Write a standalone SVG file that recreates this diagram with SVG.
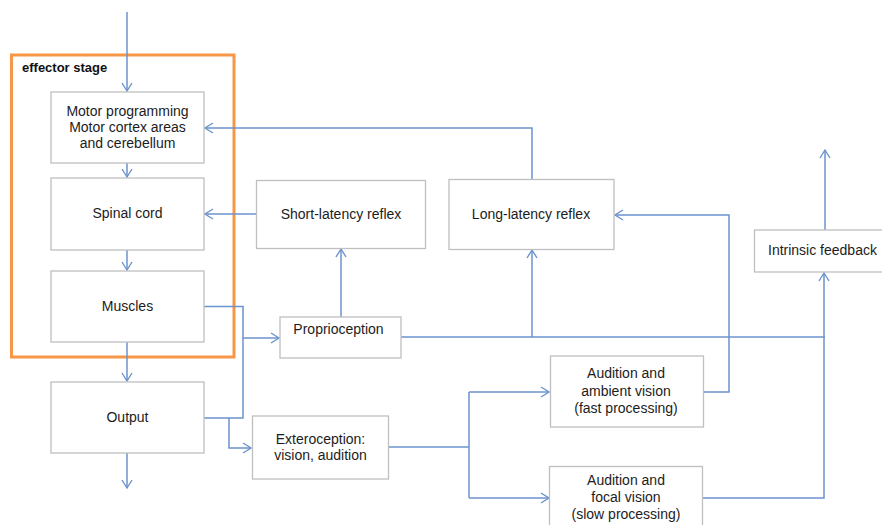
<svg xmlns="http://www.w3.org/2000/svg" width="882" height="525" viewBox="0 0 882 525">
  <style>
    .box { fill: #ffffff; stroke: #bfbfbf; stroke-width: 1.3; }
    .lbl { font-family: "Liberation Sans", Arial, sans-serif; font-size: 14px; fill: #1c1c1c; text-anchor: middle; }
    .conn { fill: none; stroke: #6b93cc; stroke-width: 1.5; }
    .stage { fill: none; stroke: #f79646; stroke-width: 3; }
    .stage-lbl { font-family: "Liberation Sans", Arial, sans-serif; font-size: 13px; font-weight: bold; fill: #111111; }
  </style>
  <defs>
    <marker id="arrow" markerUnits="userSpaceOnUse" markerWidth="14" markerHeight="14" viewBox="-10 -7 12 14" refX="0" refY="0" orient="auto">
      <path d="M-8,-5 L0,0 L-8,5" fill="none" stroke="#6b93cc" stroke-width="1.4"/>
    </marker>
  </defs>

  <rect width="882" height="525" fill="#ffffff"/>

  <!-- effector stage frame -->
  <g id="effector-stage">
    <rect class="stage" x="11.5" y="55" width="222.5" height="302"/>
    <text class="stage-lbl" x="22" y="72">effector stage</text>
  </g>

  <!-- connectors -->
  <g id="connectors">
    <path class="conn" d="M127,12 V91" marker-end="url(#arrow)"/>
    <path class="conn" d="M127,163 V177" marker-end="url(#arrow)"/>
    <path class="conn" d="M127,250 V270" marker-end="url(#arrow)"/>
    <path class="conn" d="M127,342 V381" marker-end="url(#arrow)"/>
    <path class="conn" d="M127,453 V488" marker-end="url(#arrow)"/>
    <path class="conn" d="M204,306.5 H243 V418 H204"/>
    <path class="conn" d="M243,338 H279" marker-end="url(#arrow)"/>
    <path class="conn" d="M229,418 V448 H251" marker-end="url(#arrow)"/>
    <path class="conn" d="M341,317 V249" marker-end="url(#arrow)"/>
    <path class="conn" d="M256,214 H205" marker-end="url(#arrow)"/>
    <path class="conn" d="M401,337 H825"/>
    <path class="conn" d="M532,337 V250" marker-end="url(#arrow)"/>
    <path class="conn" d="M532,179 V128 H205" marker-end="url(#arrow)"/>
    <path class="conn" d="M389,447 H469"/>
    <path class="conn" d="M469,392 V498"/>
    <path class="conn" d="M469,392 H549" marker-end="url(#arrow)"/>
    <path class="conn" d="M469,498 H549" marker-end="url(#arrow)"/>
    <path class="conn" d="M703,392 H729 V215 H615" marker-end="url(#arrow)"/>
    <path class="conn" d="M703,498 H824 V273" marker-end="url(#arrow)"/>
    <path class="conn" d="M825,230 V150" marker-end="url(#arrow)"/>
  </g>

  <g id="motor-programming">
    <rect class="box" x="51" y="92" width="153" height="71"/>
    <text class="lbl" x="127.5" y="116">Motor programming</text>
    <text class="lbl" x="127.5" y="132">Motor cortex areas</text>
    <text class="lbl" x="127.5" y="148">and cerebellum</text>
  </g>

  <g id="spinal-cord">
    <rect class="box" x="51" y="178" width="153" height="72"/>
    <text class="lbl" x="127.5" y="218">Spinal cord</text>
  </g>

  <g id="muscles">
    <rect class="box" x="51" y="271" width="153" height="71"/>
    <text class="lbl" x="127.5" y="311">Muscles</text>
  </g>

  <g id="output">
    <rect class="box" x="51" y="382" width="153" height="71"/>
    <text class="lbl" x="127.5" y="422">Output</text>
  </g>

  <g id="short-latency-reflex">
    <rect class="box" x="256.5" y="180.5" width="169" height="68"/>
    <text class="lbl" x="341" y="219">Short-latency reflex</text>
  </g>

  <g id="long-latency-reflex">
    <rect class="box" x="449" y="179.5" width="165" height="70"/>
    <text class="lbl" x="531" y="219">Long-latency reflex</text>
  </g>

  <g id="proprioception">
    <rect class="box" x="280" y="317" width="121" height="41"/>
    <text class="lbl" x="338.5" y="334">Proprioception</text>
  </g>

  <g id="exteroception">
    <rect class="box" x="252.5" y="416" width="136" height="63"/>
    <text class="lbl" x="320.5" y="444">Exteroception:</text>
    <text class="lbl" x="320.5" y="460">vision, audition</text>
  </g>

  <g id="ambient-vision">
    <rect class="box" x="550.5" y="356" width="153" height="71"/>
    <text class="lbl" x="626" y="378">Audition and</text>
    <text class="lbl" x="626" y="395.5">ambient vision</text>
    <text class="lbl" x="626" y="412.5">(fast processing)</text>
  </g>

  <g id="focal-vision">
    <rect class="box" x="549.5" y="466.5" width="153" height="70"/>
    <text class="lbl" x="626" y="485">Audition and</text>
    <text class="lbl" x="626" y="502">focal vision</text>
    <text class="lbl" x="626" y="519">(slow processing)</text>
  </g>

  <g id="intrinsic-feedback">
    <rect class="box" x="754.5" y="230" width="140" height="42"/>
    <text class="lbl" x="768" y="255" style="text-anchor:start">Intrinsic feedback</text>
  </g>
</svg>
